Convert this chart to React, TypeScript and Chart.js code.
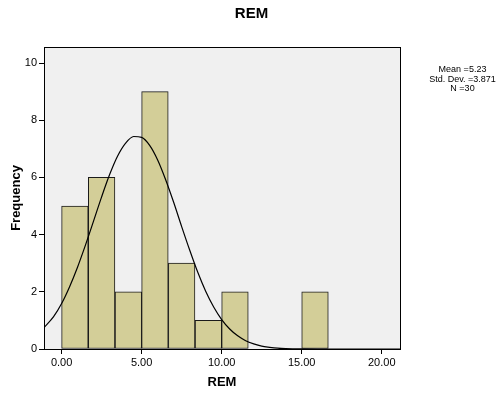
import React, { useEffect, useRef } from "react";
import { Chart, registerables } from "chart.js";

Chart.register(...registerables);

// Histogram bins (bin width 5/3)
const binMids = [0.83, 2.5, 4.17, 5.83, 7.5, 9.17, 10.83, 12.5, 14.17, 15.83];
const counts = [5, 6, 2, 9, 3, 1, 2, 0, 0, 2];

// Normal curve
const curveX = [-1.1, -0.5, 0, 0.5, 1, 1.5, 2, 2.5, 3, 3.5, 4, 4.5, 5, 5.5, 6, 6.5, 7, 7.5, 8, 8.5, 9, 9.5, 10, 10.5, 11, 11.5, 12, 12.5, 13, 13.5, 14, 15, 16, 18, 21.2];
const curveY = [0.75, 1.13, 1.59, 2.18, 2.87, 3.65, 4.48, 5.32, 6.1, 6.75, 7.2, 7.43, 7.4, 7.12, 6.61, 5.92, 5.13, 4.28, 3.46, 2.69, 2.02, 1.47, 1.03, 0.7, 0.46, 0.29, 0.18, 0.1, 0.06, 0.03, 0.015, 0.003, 0, 0, 0];

const xTicks = [0, 5, 10, 15, 20];
const yTicks = [0, 2, 4, 6, 8, 10];
const statsLines = ["Mean =5.23", "Std. Dev. =3.871", "N =30"];
const titleText = "REM";
const xTitle = "REM";
const yTitle = "Frequency";

const FONT = "'Liberation Sans', Arial, sans-serif";

const plotFrame = {
  id: "plotFrame",
  beforeDatasetsDraw(chart: any) {
    const { ctx, chartArea: a } = chart;
    ctx.save();
    ctx.fillStyle = "#f0f0f0";
    ctx.fillRect(a.left, a.top, a.right - a.left, a.bottom - a.top);
    ctx.restore();
  },
  afterDatasetsDraw(chart: any) {
    const { ctx, chartArea: a } = chart;
    ctx.save();
    ctx.strokeStyle = "#000";
    ctx.lineWidth = 1;
    ctx.strokeRect(Math.round(a.left) + 0.5, Math.round(a.top) + 0.5, Math.round(a.right - a.left), Math.round(a.bottom - a.top));
    ctx.restore();
  },
  afterDraw(chart: any) {
    const { ctx, chartArea: a } = chart;
    ctx.save();
    ctx.fillStyle = "#000";
    ctx.font = `9px ${FONT}`;
    ctx.textAlign = "center";
    ctx.textBaseline = "middle";
    const cx = (a.right + chart.width) / 2 + 11;
    statsLines.forEach((t, i) => ctx.fillText(t, cx, 70 + i * 9.5));
    ctx.restore();
  },
};

export default function App() {
  const ref = useRef<HTMLCanvasElement>(null);
  useEffect(() => {
    if (!ref.current) return;
    const chart = new Chart(ref.current, {
      type: "bar",
      data: {
        datasets: [
          {
            type: "line",
            data: curveX.map((x, i) => ({ x, y: curveY[i] })),
            borderColor: "#000",
            borderWidth: 1.2,
            pointRadius: 0,
            cubicInterpolationMode: "monotone",
            fill: false,
            order: 0,
          } as any,
          {
            type: "bar",
            data: binMids.map((x, i) => ({ x, y: counts[i] })),
            backgroundColor: "#d3ce98",
            borderColor: "#1a1a1a",
            borderWidth: 1,
            borderSkipped: false,
            barPercentage: 1,
            categoryPercentage: 1,
            order: 1,
          } as any,
        ],
      },
      plugins: [plotFrame],
      options: {
        responsive: false,
        animation: false,
        events: [],
        layout: { padding: 0 },
        plugins: {
          legend: { display: false },
          tooltip: { enabled: false },
          title: {
            display: true,
            text: titleText,
            color: "#000",
            font: { family: FONT, size: 15, weight: "bold" },
            padding: { top: 5, bottom: 24 },
          },
        },
        scales: {
          x: {
            type: "linear",
            offset: false,
            min: -1.1,
            max: 21.14,
            afterBuildTicks: (s: any) => {
              s.ticks = xTicks.map((v) => ({ value: v }));
            },
            afterFit: (s: any) => {
              s.height = 45;
            },
            ticks: {
              color: "#000",
              font: { family: FONT, size: 11 },
              padding: 2,
              maxRotation: 0,
              autoSkip: false,
              callback: (v: any) => Number(v).toFixed(2),
            },
            grid: { offset: false, drawOnChartArea: false, drawTicks: true, tickLength: 5, color: "#000" },
            border: { display: true, color: "#000" },
            title: {
              display: true,
              text: xTitle,
              color: "#000",
              font: { family: FONT, size: 13, weight: "bold" },
              padding: { top: 0, bottom: 4 },
            },
          },
          y: {
            type: "linear",
            min: 0,
            max: 10.56,
            afterBuildTicks: (s: any) => {
              s.ticks = yTicks.map((v) => ({ value: v }));
            },
            afterFit: (s: any) => {
              s.width = 44;
            },
            ticks: {
              color: "#000",
              font: { family: FONT, size: 11 },
              padding: 2,
            },
            grid: { drawOnChartArea: false, drawTicks: true, tickLength: 5, color: "#000" },
            border: { display: true, color: "#000" },
            title: {
              display: true,
              text: yTitle,
              color: "#000",
              font: { family: FONT, size: 13, weight: "bold" },
              padding: { top: 9, bottom: 0 },
            },
          },
          side: {
            type: "linear",
            position: "right",
            display: true,
            ticks: { display: false },
            grid: { display: false, drawTicks: false },
            border: { display: false },
            afterFit: (s: any) => {
              s.width = 103;
            },
          },
        },
      } as any,
    });
    return () => chart.destroy();
  }, []);
  return (
    <div style={{ position: "fixed", left: 0, top: 0, width: 503, height: 394, background: "#fff" }}>
      <canvas ref={ref} width={503} height={394} style={{ display: "block" }} />
    </div>
  );
}
